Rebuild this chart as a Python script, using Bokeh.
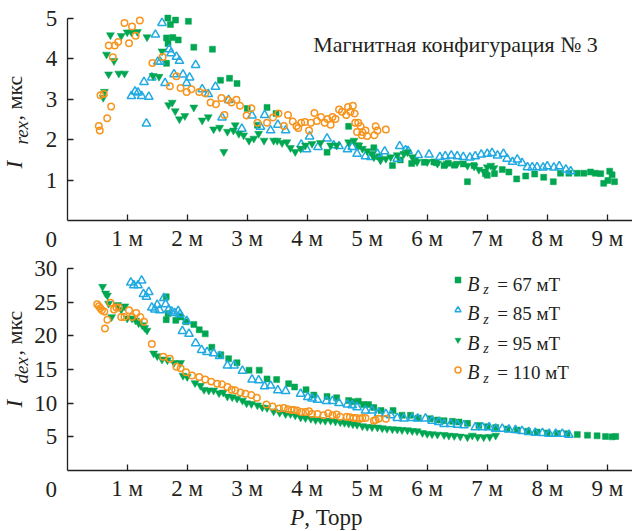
import math

from bokeh.core.properties import value
from bokeh.embed import file_html
from bokeh.layouts import column
from bokeh.models import FixedTicker, Label, Legend, LegendItem
from bokeh.plotting import figure
from bokeh.resources import INLINE

# ---------------------------------------------------------------------------
# Data: pressure P (Torr, in units of 1e-3) and currents (µs)
# ---------------------------------------------------------------------------
x_ticks = [1, 2, 3, 4, 5, 6, 7, 8, 9]
x_tick_labels = ["1 м", "2 м", "3 м", "4 м", "5 м", "6 м", "7 м", "8 м", "9 м"]
top_y_ticks = [1, 2, 3, 4, 5]
bottom_y_ticks = [5, 10, 15, 20, 25, 30]
series_labels = ["67", "85", "95", "110"]

# Upper panel: I_rex
rex_67_x = [1.655, 1.655, 1.677, 1.68, 1.72, 1.76, 1.805, 1.85, 2.02, 2.11, 2.42, 2.555, 2.705, 2.83,
            3.0, 3.17, 3.33, 3.48, 4.33, 4.69, 4.85, 5.11, 5.2, 5.42, 5.55, 5.74, 5.8, 5.95, 6.11,
            6.15, 6.28, 6.35, 6.45, 6.6, 6.67, 6.78, 6.97, 7.0, 7.12, 7.25, 7.36, 7.49, 7.64, 7.79,
            7.94, 8.1, 8.22, 8.36, 8.5, 8.61, 8.72, 8.8, 8.89, 8.94, 9.01, 9.04, 9.08, 9.12]
rex_67_y = [4.52, 3.89, 5.01, 4.38, 4.85, 4.53, 4.96, 4.47, 4.93, 4.29, 4.24, 3.47, 3.52, 3.39,
            2.77, 2.36, 2.80, 2.65, 1.69, 2.33, 1.85, 1.80, 1.58, 1.36, 1.50, 1.41, 1.47, 1.44, 1.45,
            1.43, 1.36, 1.42, 1.37, 1.40, 0.96, 1.36, 1.16, 1.12, 1.16, 1.26, 1.20, 1.03, 1.10, 1.15,
            1.07, 0.96, 1.17, 1.17, 1.17, 1.17, 1.20, 1.17, 1.16, 0.92, 0.99, 1.22, 1.13, 0.96]

rex_85_x = [1.07, 1.13, 1.18, 1.24, 1.28, 1.32, 1.36, 1.41, 1.47, 1.51, 1.55, 1.58, 1.63, 1.70, 1.73,
            1.78, 1.82, 1.87, 1.93, 1.99, 2.04, 2.14, 2.25, 2.35, 2.47, 2.58, 2.69, 2.91, 3.08, 3.22,
            3.29, 3.39, 3.51, 3.64, 3.90, 3.99, 4.04, 4.18, 4.33, 4.44, 4.53, 4.67, 4.75, 4.83, 4.97,
            5.06, 5.17, 5.29, 5.50, 5.54, 5.64, 5.68, 5.85, 6.03, 6.21, 6.30, 6.40, 6.50, 6.60, 6.71,
            6.80, 6.90, 7.00, 7.08, 7.17, 7.27, 7.33, 7.42, 7.50, 7.58, 7.67, 7.75, 7.83, 7.93, 8.00,
            8.11, 8.20, 8.31, 8.39]
rex_85_y = [3.08, 3.19, 3.17, 3.08, 3.43, 2.40, 3.06, 3.54, 4.60, 3.93, 3.93, 4.89, 3.40, 4.24, 4.14,
            3.62, 4.05, 3.95, 3.61, 3.40, 3.54, 3.85, 3.25, 3.13, 3.31, 2.55, 2.98, 2.27, 2.60, 2.32,
            2.61, 2.23, 2.37, 2.23, 1.88, 1.76, 2.08, 1.82, 2.03, 1.86, 1.84, 1.76, 1.82, 1.65, 1.59,
            1.57, 1.65, 1.71, 1.53, 1.84, 1.74, 1.72, 1.62, 1.63, 1.57, 1.59, 1.61, 1.59, 1.57, 1.56,
            1.59, 1.63, 1.65, 1.67, 1.61, 1.65, 1.53, 1.45, 1.51, 1.42, 1.32, 1.32, 1.32, 1.31, 1.34,
            1.31, 1.34, 1.26, 1.22]

rex_95_x = [0.60, 0.62, 0.655, 0.69, 0.72, 0.78, 0.86, 0.90, 0.955, 1.00, 1.07, 1.17, 1.33, 1.43, 1.53,
            1.58, 1.69, 1.75, 1.80, 1.87, 1.96, 2.11, 2.25, 2.35, 2.44, 2.54, 2.61, 2.67, 2.77, 2.80,
            2.86, 2.94, 3.03, 3.11, 3.19, 3.28, 3.44, 3.50, 3.58, 3.66, 3.72, 3.80, 3.89, 3.97, 4.08,
            4.22, 4.39, 4.49, 4.69, 4.78, 4.86, 4.92, 5.00, 5.08, 5.11, 5.22, 5.31, 5.39, 5.50, 5.61,
            5.67, 5.75, 5.83, 6.00, 6.17, 6.33, 6.50, 6.67, 6.78, 6.86, 6.94, 7.00, 7.06, 7.11]
rex_95_y = [3.04, 3.19, 4.11, 3.62, 4.59, 3.95, 3.64, 4.57, 3.64, 4.66, 4.66, 4.67, 4.54, 3.58, 3.56,
            4.19, 2.86, 2.92, 2.71, 2.51, 2.59, 2.80, 2.48, 2.56, 2.26, 2.30, 1.70, 2.20, 2.23, 2.36,
            2.15, 2.11, 1.98, 2.03, 2.15, 1.98, 1.98, 1.98, 1.92, 1.94, 1.80, 1.70, 1.78, 1.86, 1.90,
            1.92, 1.86, 1.86, 1.94, 1.98, 1.86, 1.78, 1.72, 1.65, 1.57, 1.49, 1.53, 1.57, 1.62, 1.65,
            1.69, 1.57, 1.45, 1.45, 1.41, 1.41, 1.41, 1.36, 1.34, 1.26, 1.22, 1.32, 1.36, 1.30]

rex_110_x = [0.527, 0.543, 0.555, 0.61, 0.667, 0.693, 0.733, 0.76, 0.793, 0.85, 0.955, 1.03, 1.08,
             1.14, 1.21, 1.42, 1.59, 1.71, 1.82, 1.89, 1.99, 2.07, 2.20, 2.30, 2.39, 2.48, 2.57, 2.62,
             2.68, 2.74, 2.82, 2.88, 2.99, 3.07, 3.17, 3.33, 3.43, 3.52, 3.61, 3.68, 3.76, 3.82, 3.85,
             3.90, 3.96, 4.03, 4.06, 4.12, 4.16, 4.23, 4.29, 4.34, 4.39, 4.42, 4.47, 4.53, 4.58, 4.65,
             4.68, 4.72, 4.76, 4.79, 4.80, 4.83, 4.85, 4.89, 4.91, 4.92, 4.97, 5.00, 5.12, 5.14, 5.17,
             5.31]
rex_110_y = [2.34, 2.23, 3.10, 3.13, 2.53, 4.33, 2.82, 4.04, 4.33, 4.42, 4.89, 4.39, 4.80,
             4.57, 4.95, 3.90, 4.05, 3.32, 3.57, 3.28, 3.18, 3.25, 3.18, 3.15, 2.92, 2.88, 3.03, 2.61,
             2.98, 2.92, 2.99, 2.84, 2.60, 2.78, 2.42, 2.42, 2.55, 2.65, 2.34, 2.61, 2.45, 2.34, 2.29,
             2.42, 2.44, 2.23, 2.42, 2.66, 2.46, 2.56, 2.42, 2.51, 2.37, 2.56, 2.51, 2.75, 2.69, 2.61,
             2.81, 2.69, 2.84, 2.65, 2.42, 2.19, 2.42, 2.33, 2.11, 2.19, 2.23, 2.09, 2.11, 2.33, 2.23,
             2.25]

# Lower panel: I_dex
dex_67_x = [1.65, 1.65, 1.68, 1.81, 1.89, 1.98, 2.11, 2.20, 2.30, 2.41, 2.56, 2.69, 2.83, 3.03, 3.20,
            3.33, 3.49, 3.69, 3.79, 3.98, 4.11, 4.33, 4.49, 4.69, 4.75, 4.85, 4.94, 5.02, 5.11, 5.23,
            5.43, 5.58, 5.72, 5.85, 6.05, 6.17, 6.28, 6.42, 6.53, 6.67, 6.86, 7.00, 7.14, 7.33, 7.50,
            7.67, 7.83, 8.00, 8.17, 8.33, 8.50, 8.67, 8.83, 8.97, 9.08, 9.14]
dex_67_y = [25.8, 22.4, 23.3, 22.3, 22.8, 22.1, 21.7, 20.9, 20.3, 18.3, 17.2, 16.6, 16.0, 14.9, 14.9,
            13.6, 13.5, 12.9, 12.4, 12.0, 11.2, 11.0, 10.8, 10.4, 10.2, 10.3, 9.8, 9.8, 9.35, 8.9,
            8.9, 8.2, 8.2, 7.8, 7.7, 7.5, 7.4, 7.3, 7.2, 7.0, 6.7, 6.5, 6.4, 6.15, 6.0,
            5.82, 5.7, 5.57, 5.5, 5.46, 5.33, 5.25, 5.15, 5.06, 5.0, 5.06]

dex_85_x = [1.06, 1.11, 1.18, 1.24, 1.27, 1.32, 1.36, 1.41, 1.46, 1.50, 1.54, 1.61, 1.64, 1.69, 1.74,
            1.79, 1.85, 1.88, 1.92, 1.99, 2.03, 2.14, 2.24, 2.33, 2.44, 2.54, 2.67, 2.78, 2.92, 3.08,
            3.19, 3.29, 3.39, 3.51, 3.64, 3.89, 4.01, 4.08, 4.17, 4.32, 4.42, 4.53, 4.67, 4.75, 4.83,
            4.97, 5.08, 5.19, 5.31, 5.39, 5.50, 5.61, 5.75, 5.84, 5.97, 6.08, 6.19, 6.28, 6.39, 6.50,
            6.61, 6.80, 6.92, 7.03, 7.14, 7.25, 7.36, 7.47, 7.58, 7.69, 7.80, 7.92, 8.03, 8.14, 8.25,
            8.36]
dex_85_y = [27.9, 27.5, 27.5, 28.2, 26.2, 25.8, 26.5, 24.2, 23.9, 24.6, 23.8, 25.6, 24.7, 23.9, 23.6,
            23.4, 23.7, 23.2, 20.7, 22.2, 20.3, 18.9, 17.9, 17.6, 17.4, 17.0, 15.6, 15.6, 14.8, 13.5,
            13.4, 12.5, 12.6, 11.9, 11.8, 11.4, 10.9, 10.7, 10.5, 10.3, 10.3, 10.0, 9.8, 9.7, 9.4,
            8.9, 8.9, 8.5, 8.4, 8.2, 7.8, 7.7, 7.8, 7.7, 7.7, 7.4, 7.2, 6.9, 6.9, 6.8,
            6.7, 6.4, 6.4, 6.4, 6.2, 6.2, 6.1, 6.0, 5.85, 5.7, 5.6, 5.55, 5.46, 5.46, 5.46,
            5.3]

dex_95_x = [0.59, 0.64, 0.67, 0.69, 0.74, 0.84, 0.90, 0.96, 1.00, 1.08, 1.14, 1.19, 1.25, 1.29, 1.33,
            1.44, 1.50, 1.58, 1.67, 1.78, 1.89, 1.93, 2.00, 2.13, 2.22, 2.28, 2.36, 2.44, 2.53, 2.60,
            2.67, 2.75, 2.83, 2.92, 2.99, 3.07, 3.17, 3.25, 3.33, 3.44, 3.54, 3.64, 3.72, 3.80, 3.89,
            3.97, 4.06, 4.14, 4.22, 4.30, 4.39, 4.47, 4.55, 4.62, 4.69, 4.76, 4.83, 4.92, 5.00, 5.08,
            5.17, 5.25, 5.33, 5.42, 5.50, 5.58, 5.67, 5.75, 5.83, 5.92, 6.00, 6.08, 6.17, 6.28, 6.36,
            6.45, 6.55, 6.67, 6.75, 6.84, 6.94, 7.04, 7.14]
dex_95_y = [27.3, 26.3, 26.0, 24.8, 22.8, 24.6, 23.9, 24.4, 22.6, 22.6, 22.3, 21.9, 21.6, 21.2, 20.8,
            17.4, 17.0, 16.5, 16.4, 16.0, 16.0, 14.1, 13.9, 13.0, 12.6, 12.0, 11.9, 11.9, 11.5, 11.6,
            11.0, 10.9, 10.7, 10.4, 10.0, 9.9, 9.7, 9.4, 9.3, 8.8, 8.6, 8.4, 8.4, 8.2, 7.9,
            7.8, 7.7, 7.5, 7.5, 7.4, 7.4, 7.3, 7.2, 7.1, 7.0, 6.9, 6.8, 6.6, 6.5, 6.45,
            6.4, 6.3, 6.2, 6.15, 6.1, 6.05, 6.0, 5.9, 5.85, 5.6, 5.46, 5.4, 5.35, 5.3, 5.2,
            5.15, 5.06, 4.96, 5.2, 5.0, 4.96, 5.0, 5.2]

dex_110_x = [0.50, 0.53, 0.555, 0.58, 0.62, 0.63, 0.67, 0.72, 0.78, 0.82, 0.86, 0.90, 0.955, 1.03,
             1.08, 1.15, 1.22, 1.28, 1.41, 1.60, 1.71, 1.82, 1.89, 1.98, 2.08, 2.20, 2.30, 2.40, 2.50,
             2.58, 2.67, 2.74, 2.80, 2.89, 2.97, 3.07, 3.16, 3.32, 3.42, 3.53, 3.61, 3.68, 3.74, 3.78,
             3.83, 3.90, 3.97, 4.03, 4.08, 4.17, 4.27, 4.35, 4.42, 4.49, 4.55, 4.66, 4.71, 4.77, 4.82,
             4.88, 4.92, 4.97, 5.11, 5.14, 5.19, 5.31]
dex_110_y = [24.7, 24.4, 24.1, 23.8, 23.6, 21.1, 22.4, 24.9, 23.9, 24.2, 24.2, 22.8, 22.8, 23.8,
             22.8, 23.4, 22.8, 22.1, 18.8, 16.9, 16.6, 15.4, 15.2, 14.6, 14.1, 13.9, 13.5, 13.2, 12.9,
             12.8, 12.4, 12.0, 11.9, 11.6, 11.4, 11.2, 10.8, 9.8, 9.5, 9.2, 9.3, 9.1, 9.0, 9.0,
             8.9, 8.7, 8.7, 8.8, 8.4, 8.4, 8.2, 8.5, 8.2, 8.3, 8.0, 8.0, 7.9, 7.8, 7.8,
             7.7, 7.8, 7.8, 7.4, 7.5, 7.7, 7.7]

# ---------------------------------------------------------------------------
# Styling / geometry
# ---------------------------------------------------------------------------
SERIF = "Liberation Serif"
INK = "#231f20"
GREEN = "#00a651"
BLUE = "#21aae2"
ORANGE = "#f7941d"
TICK_FONT = "23px"
MID = 0.3375          # distance from the middle of a text line to its baseline, in em

WIDTH = 632
X_MAX = 9.42          # right end of the pressure axis
AXIS_LEFT_PX = 66.7   # where P = 0 sits, from the left edge
AXIS_LEN_PX = 202     # height of each value axis


def text(p, txt, dx, base_dy, size, italic=False, align="left"):
    """Horizontal text whose baseline sits base_dy px above the origin (P=0, I=0)."""
    p.add_layout(Label(x=0, y=0, x_offset=dx, y_offset=base_dy + MID * size, text=txt,
                       text_font=SERIF, text_font_size=f"{size}px", text_color=INK,
                       text_font_style="italic" if italic else "normal",
                       text_align=align, text_baseline="middle"))


def vtext(p, txt, base_dx, start_dy, size, italic=False):
    """Upward-reading text with its baseline base_dx px right of the origin."""
    p.add_layout(Label(x=0, y=0, x_offset=base_dx - MID * size, y_offset=start_dy, text=txt,
                       angle=math.pi / 2, text_font=SERIF, text_font_size=f"{size}px",
                       text_color=INK, text_font_style="italic" if italic else "normal",
                       text_align="left", text_baseline="middle"))


def make_panel(y_end, y_ticks, height, axis_bottom_px):
    """A panel whose axes sit at P = 0 and I = 0 inside a full-canvas frame,
    so the titles drawn around the axes are never clipped."""
    px_x = (WIDTH - AXIS_LEFT_PX) / X_MAX
    px_y = AXIS_LEN_PX / y_end
    x0 = -AXIS_LEFT_PX / px_x
    y1 = axis_bottom_px / px_y
    y0 = -(height - axis_bottom_px) / px_y
    p = figure(width=WIDTH, height=height, x_range=(x0, X_MAX), y_range=(y0, y1),
               output_backend="svg", toolbar_location=None, title=None,
               min_border=0, min_border_left=0, min_border_right=0,
               min_border_top=0, min_border_bottom=0)
    p.outline_line_color = None
    p.grid.visible = False
    p.background_fill_color = "white"
    p.border_fill_color = "white"

    p.xaxis.fixed_location = 0
    p.yaxis.fixed_location = 0
    p.xaxis.bounds = (0, X_MAX)
    p.yaxis.bounds = (0, y_end)
    p.xaxis.ticker = FixedTicker(ticks=x_ticks)
    p.xaxis.major_label_overrides = dict(zip(x_ticks, x_tick_labels))
    p.yaxis.ticker = FixedTicker(ticks=y_ticks)
    for ax in (p.xaxis, p.yaxis):
        ax.axis_line_color = INK
        ax.axis_line_width = 1.3
        ax.major_tick_line_color = INK
        ax.major_tick_line_width = 1.3
        ax.major_tick_in = 6
        ax.major_tick_out = 0
        ax.minor_tick_line_color = None
        ax.major_label_text_font = SERIF
        ax.major_label_text_font_size = TICK_FONT
        ax.major_label_text_color = INK
    p.xaxis.major_label_standoff = 5
    p.yaxis.major_label_standoff = 10

    # shared origin label
    text(p, "0", -16, -27, 23, align="center")
    return p


def add_series(p, xs, ys):
    r67 = p.scatter(xs[0], ys[0], marker="square", size=6, color=GREEN, line_width=0.5)
    r85 = p.scatter(xs[1], ys[1], marker="triangle", size=8.5, fill_color=None,
                    line_color=BLUE, line_width=1.5)
    r95 = p.scatter(xs[2], ys[2], marker="inverted_triangle", size=8, color=GREEN, line_width=0.5)
    r110 = p.scatter(xs[3], ys[3], marker="circle", size=6.5, fill_color=None,
                     line_color=ORANGE, line_width=1.5)
    return [r67, r85, r95, r110]


def add_y_title(p, sub, start_dy, unit_gap):
    """Rotated 'I_sub, мкс' composed of italic and upright pieces."""
    vtext(p, "I", -45, start_dy, 23, italic=True)
    vtext(p, sub, -39, start_dy + 24, 19, italic=True)
    vtext(p, ", мкс", -45, start_dy + unit_gap, 22)


# ---------------------------------------------------------------------------
# Upper panel
# ---------------------------------------------------------------------------
top = make_panel(5, top_y_ticks, 256, 220)
add_series(top, [rex_67_x, rex_85_x, rex_95_x, rex_110_x],
           [rex_67_y, rex_85_y, rex_95_y, rex_110_y])
add_y_title(top, "rex", 52, 48)
text(top, "Магнитная конфигурация № 3", 246, 169, 22)

# ---------------------------------------------------------------------------
# Lower panel
# ---------------------------------------------------------------------------
bottom = make_panel(30, bottom_y_ticks, 275, 214)
renderers = add_series(bottom, [dex_67_x, dex_85_x, dex_95_x, dex_110_x],
                       [dex_67_y, dex_85_y, dex_95_y, dex_110_y])
add_y_title(bottom, "dex", 63, 52)

# x-axis title "P, Торр"
text(bottom, "P", 223, -55, 23, italic=True)
text(bottom, ", Торр", 237, -55, 23)

# legend keys (markers) from the library's legend; label text composed separately
legend = Legend(items=[LegendItem(label=value(""), renderers=[r]) for r in renderers],
                location=(450, 154), orientation="vertical",
                glyph_width=15, glyph_height=15, label_height=15, label_width=0,
                label_standoff=0, label_text_font_size="1px", spacing=15, padding=0, margin=0,
                border_line_color=None, background_fill_alpha=0)
bottom.add_layout(legend)

for i, lab in enumerate(series_labels):
    base = 180 - 29.5 * i     # baseline of each entry above the P axis
    text(bottom, "B", 400, base, 20, italic=True)
    text(bottom, "z", 416, base - 4, 14, italic=True)
    text(bottom, f"= {lab} мТ", 430, base, 19)

layout = column(top, bottom, spacing=0)
open("out.html", "w").write(file_html(layout, INLINE))
